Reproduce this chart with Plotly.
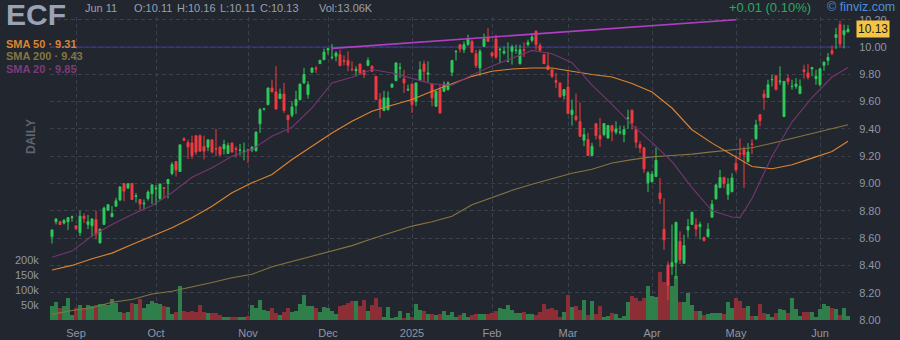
import pandas as pd
import plotly.graph_objects as go

ticker = "ECF"

# NYSE sessions for the period shown
holidays = ["2024-09-02", "2024-11-28", "2024-12-25", "2025-01-01", "2025-01-09",
            "2025-01-20", "2025-02-17", "2025-04-18", "2025-05-26"]
sessions = pd.bdate_range("2024-08-23", "2025-06-11", freq="C", holidays=holidays)
dates = [d.strftime("%Y-%m-%d") for d in sessions]

opens = [
    8.61, 8.72, 8.72, 8.71, 8.72, 8.75, 8.69, 8.64, 8.76, 8.70,
    8.69, 8.735, 8.565, 8.70, 8.805, 8.756, 8.834, 8.88, 9.00, 8.966,
    9.00, 8.905, 8.883, 8.85, 8.89, 8.925, 8.96, 8.89, 8.97, 9.00,
    9.073, 9.161, 9.088, 9.327, 9.30, 9.297, 9.35, 9.35, 9.27, 9.266,
    9.32, 9.255, 9.268, 9.254, 9.22, 9.297, 9.255, 9.243, 9.235, 9.25,
    9.245, 9.242, 9.437, 9.545, 9.578, 9.70, 9.671, 9.622, 9.656, 9.50,
    9.50, 9.571, 9.615, 9.737, 9.651, 9.815, 9.845, 9.878, 9.907, 9.978,
    9.922, 9.932, 9.944, 9.90, 9.902, 9.837, 9.827, 9.876, 9.829, 9.866,
    9.859, 9.785, 9.615, 9.534, 9.541, 9.705, 9.754, 9.845, 9.766, 9.685,
    9.729, 9.602, 9.754, 9.876, 9.80, 9.729, 9.566, 9.688, 9.676, 9.688,
    9.815, 9.965, 10.017, 9.98, 10.017, 10.041, 9.951, 9.846, 10.005, 10.066,
    9.956, 10.059, 9.98, 9.956, 9.893, 9.968, 9.975, 9.878, 9.981, 10.017,
    10.049, 10.115, 10.01, 9.944, 9.863, 9.834, 9.754, 9.737, 9.644, 9.707,
    9.505, 9.493, 9.454, 9.317, 9.322, 9.205, 9.439, 9.351, 9.359, 9.334,
    9.424, 9.376, 9.373, 9.359, 9.478, 9.537, 9.395, 9.285, 9.261, 9.005,
    9.014, 9.051, 8.93, 8.665, 8.403, 8.39, 8.42, 8.575, 8.415, 8.66,
    8.70, 8.697, 8.685, 8.604, 8.611, 8.753, 8.888, 8.97, 9.044, 8.92,
    8.94, 9.149, 9.222, 9.247, 9.16, 9.29, 9.327, 9.504, 9.655, 9.63,
    9.76, 9.79, 9.745, 9.49, 9.77, 9.71, 9.712, 9.658, 9.833, 9.81,
    9.84, 9.768, 9.724, 9.866, 9.902, 9.973, 10.07, 10.164, 10.09, 10.11,
]
highs = [
    8.66, 8.745, 8.725, 8.74, 8.75, 8.765, 8.69, 8.80, 8.78, 8.77,
    8.745, 8.80, 8.67, 8.83, 8.845, 8.835, 8.895, 8.98, 9.00, 9.00,
    9.00, 8.93, 8.883, 8.883, 8.95, 8.99, 8.99, 9.00, 8.97, 9.03,
    9.157, 9.161, 9.283, 9.34, 9.32, 9.35, 9.35, 9.36, 9.35, 9.32,
    9.32, 9.40, 9.268, 9.32, 9.30, 9.297, 9.273, 9.29, 9.30, 9.25,
    9.275, 9.383, 9.554, 9.554, 9.70, 9.76, 9.859, 9.695, 9.737, 9.50,
    9.602, 9.68, 9.729, 9.846, 9.749, 9.85, 9.86, 9.907, 9.988, 9.993,
    10.022, 9.968, 9.98, 9.939, 9.968, 9.895, 9.859, 9.876, 9.829, 9.924,
    9.866, 9.785, 9.663, 9.68, 9.675, 9.729, 9.89, 9.883, 9.834, 9.724,
    9.729, 9.737, 9.895, 9.902, 9.895, 9.729, 9.68, 9.72, 9.749, 9.749,
    9.902, 9.976, 10.017, 10.041, 10.09, 10.054, 9.98, 9.985, 10.098, 10.139,
    9.968, 10.09, 9.993, 10.005, 10.034, 10.017, 10.017, 10.017, 10.034, 10.054,
    10.102, 10.122, 10.03, 9.944, 9.961, 9.834, 9.81, 9.737, 9.688, 9.822,
    9.615, 9.659, 9.595, 9.407, 9.371, 9.298, 9.439, 9.48, 9.439, 9.424,
    9.424, 9.456, 9.424, 9.424, 9.541, 9.541, 9.42, 9.31, 9.268, 9.09,
    9.09, 9.263, 9.04, 8.89, 8.428, 8.70, 8.716, 8.65, 8.625, 8.74,
    8.79, 8.745, 8.72, 8.61, 8.71, 8.88, 8.99, 9.10, 9.05, 9.04,
    9.075, 9.21, 9.33, 9.27, 9.296, 9.325, 9.467, 9.504, 9.687, 9.76,
    9.797, 9.79, 9.858, 9.75, 9.797, 9.76, 9.772, 9.762, 9.87, 9.875,
    9.85, 9.834, 9.846, 9.895, 9.956, 10.012, 10.139, 10.193, 10.164, 10.16,
]
lows = [
    8.56, 8.70, 8.695, 8.70, 8.66, 8.72, 8.66, 8.615, 8.71, 8.665,
    8.61, 8.59, 8.56, 8.70, 8.80, 8.756, 8.83, 8.87, 8.87, 8.96,
    8.88, 8.86, 8.80, 8.81, 8.875, 8.85, 8.84, 8.88, 8.89, 8.89,
    9.06, 9.05, 9.085, 9.31, 9.18, 9.18, 9.21, 9.235, 9.176, 9.237,
    9.22, 9.20, 9.20, 9.212, 9.22, 9.23, 9.19, 9.205, 9.17, 9.15,
    9.23, 9.232, 9.37, 9.534, 9.573, 9.671, 9.541, 9.622, 9.517, 9.371,
    9.485, 9.51, 9.607, 9.729, 9.622, 9.81, 9.81, 9.875, 9.907, 9.944,
    9.907, 9.895, 9.863, 9.866, 9.822, 9.822, 9.785, 9.80, 9.773, 9.859,
    9.817, 9.615, 9.48, 9.534, 9.534, 9.705, 9.749, 9.773, 9.663, 9.676,
    9.517, 9.566, 9.749, 9.749, 9.744, 9.566, 9.561, 9.51, 9.671, 9.68,
    9.786, 9.90, 9.96, 9.956, 10.01, 9.961, 9.846, 9.79, 10.0, 10.041,
    9.92, 9.912, 9.883, 9.944, 9.893, 9.871, 9.951, 9.871, 9.927, 10.005,
    10.034, 9.98, 9.968, 9.878, 9.834, 9.773, 9.70, 9.634, 9.615, 9.512,
    9.424, 9.456, 9.341, 9.273, 9.205, 9.205, 9.322, 9.268, 9.346, 9.327,
    9.31, 9.359, 9.359, 9.302, 9.40, 9.395, 9.26, 9.224, 9.078, 8.937,
    9.005, 9.046, 8.85, 8.513, 8.146, 8.33, 8.30, 8.41, 8.41, 8.605,
    8.697, 8.61, 8.59, 8.575, 8.604, 8.753, 8.88, 8.966, 8.966, 8.88,
    8.935, 9.083, 9.185, 8.966, 9.155, 9.215, 9.32, 9.418, 9.54, 9.626,
    9.711, 9.687, 9.722, 9.49, 9.723, 9.687, 9.694, 9.658, 9.768, 9.762,
    9.785, 9.723, 9.71, 9.826, 9.866, 9.94, 9.985, 9.997, 9.99, 10.11,
]
closes = [
    8.66, 8.74, 8.70, 8.73, 8.75, 8.755, 8.67, 8.76, 8.745, 8.72,
    8.74, 8.63, 8.665, 8.82, 8.845, 8.78, 8.873, 8.975, 8.944, 8.998,
    8.883, 8.91, 8.85, 8.855, 8.937, 8.99, 8.965, 8.996, 8.965, 9.03,
    9.139, 9.098, 9.283, 9.317, 9.268, 9.205, 9.23, 9.237, 9.237, 9.32,
    9.23, 9.252, 9.212, 9.286, 9.278, 9.23, 9.25, 9.245, 9.237, 9.24,
    9.265, 9.376, 9.541, 9.548, 9.70, 9.671, 9.546, 9.656, 9.534, 9.468,
    9.561, 9.615, 9.729, 9.798, 9.724, 9.846, 9.84, 9.902, 9.963, 9.988,
    9.925, 9.956, 9.863, 9.895, 9.866, 9.834, 9.836, 9.81, 9.798, 9.902,
    9.822, 9.615, 9.554, 9.627, 9.627, 9.729, 9.883, 9.847, 9.737, 9.69,
    9.578, 9.737, 9.834, 9.822, 9.81, 9.627, 9.676, 9.517, 9.729, 9.737,
    9.902, 9.968, 9.985, 10.017, 10.059, 9.961, 9.863, 9.968, 10.059, 10.041,
    9.937, 9.927, 9.983, 9.968, 9.895, 10.0, 9.976, 9.98, 9.976, 10.034,
    10.073, 10.017, 9.976, 9.878, 9.834, 9.785, 9.741, 9.634, 9.688, 9.512,
    9.537, 9.468, 9.346, 9.358, 9.205, 9.273, 9.351, 9.327, 9.439, 9.424,
    9.383, 9.40, 9.376, 9.395, 9.48, 9.444, 9.302, 9.261, 9.107, 9.078,
    9.068, 9.17, 8.888, 8.587, 8.257, 8.42, 8.716, 8.44, 8.545, 8.685,
    8.79, 8.667, 8.70, 8.582, 8.665, 8.848, 8.99, 9.044, 9.002, 8.995,
    9.04, 9.10, 9.218, 9.21, 9.23, 9.286, 9.43, 9.46, 9.63, 9.724,
    9.762, 9.687, 9.75, 9.748, 9.748, 9.712, 9.728, 9.712, 9.82, 9.778,
    9.85, 9.785, 9.84, 9.888, 9.924, 9.954, 10.09, 10.022, 10.12, 10.13,
]
# daily volume, thousands of shares
volume_k = [
    47, 61, 39, 47, 75, 17, 39, 50, 39, 50,
    47, 50, 55, 53, 50, 71, 58, 28, 22, 27,
    58, 55, 70, 39, 53, 63, 58, 53, 47, 42,
    20, 28, 113, 31, 28, 30, 27, 50, 28, 25,
    22, 22, 17, 11, 11, 11, 11, 11, 11, 13,
    49, 40, 66, 34, 30, 40, 23, 16, 27, 40,
    27, 29, 53, 84, 46, 46, 40, 27, 42, 40,
    29, 20, 46, 51, 57, 64, 64, 46, 68, 31,
    49, 75, 42, 9, 42, 4, 9, 29, 7, 23,
    9, 53, 34, 29, 20, 20, 16, 20, 29, 18,
    28, 11, 17, 24, 11, 17, 20, 20, 20, 20,
    22, 30, 39, 36, 50, 33, 24, 24, 26, 20,
    20, 17, 28, 53, 38, 41, 33, 11, 27, 83,
    42, 47, 33, 67, 17, 63, 20, 47, 11, 13,
    22, 20, 6, 13, 60, 80, 72, 64, 72, 113,
    80, 76, 159, 128, 122, 114, 147, 59, 59, 91,
    50, 30, 30, 17, 19, 24, 24, 23, 20, 61,
    39, 74, 63, 39, 48, 14, 14, 52, 22, 19,
    11, 22, 37, 33, 22, 72, 37, 14, 26, 28,
    26, 11, 36, 52, 47, 39, 37, 17, 39, 13.06,
]

# moving averages, sampled at these session numbers
sma_pos = [0, 5, 10, 15, 20, 25, 30, 35, 40, 45, 50, 55, 60, 65, 70, 75, 80, 85, 90, 95,
           100, 105, 110, 115, 120, 125, 130, 135, 140, 145, 150, 155, 160, 165, 170, 172,
           175, 180, 185, 190, 195, 199]
sma20 = [8.46, 8.505, 8.615, 8.70, 8.773, 8.839, 8.932, 9.046, 9.115, 9.20, 9.249, 9.346,
         9.412, 9.554, 9.737, 9.778, 9.835, 9.81, 9.77, 9.73, 9.72, 9.795, 9.86, 9.92,
         9.975, 9.95, 9.885, 9.72, 9.58, 9.43, 9.30, 9.16, 8.97, 8.80, 8.755, 8.75,
         8.89, 9.20, 9.45, 9.63, 9.78, 9.85]
sma50 = [8.366, 8.40, 8.449, 8.49, 8.554, 8.615, 8.676, 8.749, 8.834, 8.932, 9.005, 9.066,
         9.176, 9.273, 9.37, 9.456, 9.529, 9.573, 9.615, 9.676, 9.73, 9.785, 9.822, 9.839,
         9.846, 9.846, 9.822, 9.798, 9.78, 9.732, 9.67, 9.553, 9.394, 9.296, 9.21, 9.175,
         9.125, 9.108, 9.137, 9.186, 9.235, 9.31]
sma200 = [8.041, 8.07, 8.09, 8.13, 8.15, 8.19, 8.21, 8.24, 8.275, 8.31, 8.335, 8.39,
          8.43, 8.465, 8.505, 8.545, 8.595, 8.64, 8.688, 8.72, 8.76, 8.845, 8.90, 8.95,
          8.995, 9.035, 9.075, 9.105, 9.15, 9.175, 9.195, 9.205, 9.215, 9.232, 9.245, 9.25,
          9.262, 9.295, 9.33, 9.365, 9.40, 9.43]

# drawn trendline and horizontal level
trend_dates = ["2024-12-03", "2025-05-01"]
trend_prices = [9.99, 10.20]
level_price = 10.00

BG = "#22262f"
GRID = "#3b404c"
TICK = "#8f96a4"
UP, DOWN = "#2fc95b", "#f23a40"
VOL_UP, VOL_DOWN = "#2e7f4a", "#8d2e36"
C50, C200, C20 = "#dc8530", "#857540", "#763670"
FONT = "Liberation Sans, Arial, sans-serif"

# plot area in pixels
L, R, T, B = 50, 50, 17, 20
W, H = 900 - L - R, 340 - T - B


def px(x):
    return (x - L) / W


def py(y):
    return (T + H - y) / H


vol_colors = [VOL_UP if c >= o else VOL_DOWN for o, c in zip(opens, closes)]

# month boundaries for the date axis
month_vals, month_text = [], []
for k in range(1, len(sessions)):
    if sessions[k].month != sessions[k - 1].month:
        month_vals.append(dates[k])
        month_text.append(str(sessions[k].year) if sessions[k].month == 1 else sessions[k].strftime("%b"))

fig = go.Figure()
fig.add_trace(go.Bar(x=dates, y=volume_k, marker=dict(color=vol_colors, line=dict(width=0)),
                     yaxis="y", hoverinfo="skip"))
sma_x = [dates[k] for k in sma_pos]
for vals, col in [(sma200, C200), (sma50, C50), (sma20, C20)]:
    fig.add_trace(go.Scatter(x=sma_x, y=vals, mode="lines", line=dict(color=col, width=1.1),
                             yaxis="y2", hoverinfo="skip"))
fig.add_trace(go.Scatter(x=trend_dates, y=trend_prices, mode="lines",
                         line=dict(color="#b23ec6", width=1.6), yaxis="y2", hoverinfo="skip"))
fig.add_trace(go.Candlestick(
    x=dates, open=opens, high=highs, low=lows, close=closes, yaxis="y2",
    increasing=dict(line=dict(color=UP, width=1), fillcolor=UP),
    decreasing=dict(line=dict(color=DOWN, width=1), fillcolor=DOWN),
    whiskerwidth=0,
))

fig.add_shape(type="line", xref="paper", x0=0, x1=1, yref="y2", y0=level_price, y1=level_price,
              line=dict(color="#3a3d92", width=1), layer="below")

tickfont = dict(family=FONT, size=11, color=TICK)
fig.update_layout(
    width=900, height=340,
    margin=dict(l=L, r=R, t=T, b=B, autoexpand=False),
    paper_bgcolor=BG, plot_bgcolor=BG,
    showlegend=False, bargap=0,
    font=dict(family=FONT, size=11, color=TICK),
    xaxis=dict(type="category", range=[-0.5, len(dates) - 0.5],
               rangeslider=dict(visible=False), automargin=False,
               tickmode="array", tickvals=month_vals, ticktext=month_text,
               showgrid=True, gridcolor=GRID, griddash="4px,3px", gridwidth=1,
               ticks="outside", ticklen=3, tickcolor=BG, tickfont=tickfont,
               showline=False, zeroline=False),
    yaxis=dict(range=[0, H / 15 * 50], side="left", automargin=False,
               tickmode="array", tickvals=[50, 100, 150, 200],
               ticktext=["50k", "100k", "150k", "200k"],
               showgrid=False, zeroline=False, showline=False,
               ticks="outside", ticklen=8, tickcolor=BG, tickfont=tickfont),
    yaxis2=dict(overlaying="y", side="right", range=[8.0, 8.0 + H / 136.5], automargin=False,
                tick0=8.0, dtick=0.2, tickformat=".2f",
                showgrid=True, gridcolor=GRID, griddash="4px,3px", gridwidth=1,
                zeroline=False, showline=False,
                ticks="outside", ticklen=6, tickcolor=BG, tickfont=tickfont),
)

ann = []


def text(x, y, s, size=11, color=TICK, weight=400, xanchor="left", **kw):
    ann.append(dict(xref="paper", yref="paper", x=px(x), y=py(y), text=s, showarrow=False,
                    xanchor=xanchor, yanchor="middle",
                    font=dict(family=FONT, size=size, color=color, weight=weight), **kw))


text(4, 15, ticker, size=30, color="#9aa3b5", weight=700)
text(83, 8, sessions[-1].strftime("%b %d"), color="#9aa0ad")
text(132, 8, f"O:{opens[-1]:.2f}", color="#9aa0ad")
text(175, 8, f"H:{highs[-1]:.2f}", color="#9aa0ad")
text(218, 8, f"L:{lows[-1]:.2f}", color="#9aa0ad")
text(258, 8, f"C:{closes[-1]:.2f}", color="#9aa0ad")
text(317, 8, f"Vol:{volume_k[-1]:.2f}K", color="#9aa0ad")

chg = closes[-1] - closes[-2]
text(727, 8, f"{chg:+.2f} ({chg / closes[-2] * 100:.2f}%)", size=13, color="#2ea85c")
text(825, 7, "© finviz.com", size=12.5, color="#4f8fd8")

text(4, 44, f"SMA 50 · {sma50[-1]:.2f}", color=C50, weight=700)
text(4, 56.5, f"SMA 200 · {sma200[-1]:.2f}", color=C200, weight=700)
text(4, 69, f"SMA 20 · {sma20[-1]:.2f}", color="#7e3a7a", weight=700)

text(31, 137, "DAILY", size=12, color="#5d6370", weight=700, xanchor="center", textangle=-90)

# last price tag on the price scale
ann.append(dict(xref="paper", yref="y2", x=px(856), y=closes[-1], text=f"{closes[-1]:.2f}",
                showarrow=False, xanchor="left", yanchor="middle", bgcolor="#f5c443",
                borderpad=1, font=dict(family=FONT, size=12, color="#1b1b1b")))

fig.update_layout(annotations=ann)

fig.write_html("out.html")
